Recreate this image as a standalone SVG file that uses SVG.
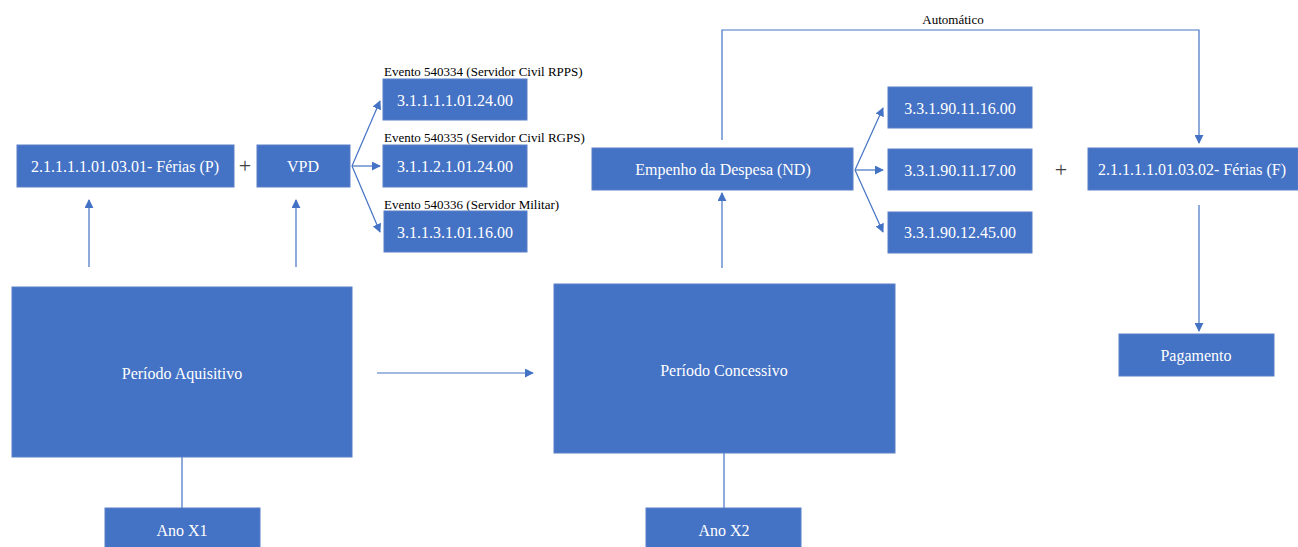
<svg xmlns="http://www.w3.org/2000/svg" width="1298" height="547" viewBox="0 0 1298 547">
<style>
.b{fill:#4472C4;stroke:#5A80C8;stroke-width:1}
.t{font-family:'Liberation Serif','Times New Roman',serif;font-size:16px;fill:#ffffff;text-anchor:middle;dominant-baseline:central}
.l{font-family:'Liberation Serif','Times New Roman',serif;font-size:13px;fill:#000000}
.p{font-family:'Liberation Serif','Times New Roman',serif;font-size:22px;fill:#404040;text-anchor:middle;dominant-baseline:central}
.c{fill:none;stroke:#4472C4;stroke-width:1.2}
</style>
<defs>
<marker id="a" viewBox="0 0 10 10" refX="9" refY="5" markerWidth="9" markerHeight="9" markerUnits="userSpaceOnUse" orient="auto">
<path d="M0,0 L10,5 L0,10 z" fill="#4472C4"/>
</marker>
</defs>
<rect width="1298" height="547" fill="#ffffff"/>
<g id="connectors">
<line class="c" x1="89" y1="267" x2="89" y2="200" marker-end="url(#a)"/>
<line class="c" x1="296" y1="267" x2="296" y2="200" marker-end="url(#a)"/>
<line class="c" x1="352" y1="166" x2="380" y2="101" marker-end="url(#a)"/>
<line class="c" x1="352" y1="166" x2="380" y2="166" marker-end="url(#a)"/>
<line class="c" x1="352" y1="166" x2="380" y2="232" marker-end="url(#a)"/>
<line class="c" x1="855" y1="170" x2="883" y2="108" marker-end="url(#a)"/>
<line class="c" x1="855" y1="170" x2="883" y2="170" marker-end="url(#a)"/>
<line class="c" x1="855" y1="170" x2="883" y2="232" marker-end="url(#a)"/>
<polyline class="c" points="722,140 722,30 1199,30 1199,143" marker-end="url(#a)"/>
<line class="c" x1="722" y1="268" x2="722" y2="193" marker-end="url(#a)"/>
<line class="c" x1="1199" y1="205" x2="1199" y2="331" marker-end="url(#a)"/>
<line class="c" x1="377" y1="373" x2="533" y2="373" marker-end="url(#a)"/>
<line class="c" x1="182" y1="457" x2="182" y2="508"/>
<line class="c" x1="724" y1="453" x2="724" y2="508"/>
</g>
<text class="l" x="953" y="24" text-anchor="middle">Automático</text>
<text class="p" x="245" y="165">+</text>
<text class="p" x="1061" y="169">+</text>
<g id="ferias-p"><rect class="b" x="17" y="145" width="217" height="42"/><text class="t" x="125" y="166">2.1.1.1.1.01.03.01- Férias (P)</text></g>
<g id="vpd"><rect class="b" x="257" y="145" width="93" height="42"/><text class="t" x="303" y="166">VPD</text></g>
<g id="n311"><text class="l" x="384" y="76">Evento 540334 (Servidor Civil RPPS)</text><rect class="b" x="383" y="79" width="144" height="41"/><text class="t" x="455" y="100">3.1.1.1.1.01.24.00</text></g>
<g id="n312"><text class="l" x="384" y="142">Evento 540335 (Servidor Civil RGPS)</text><rect class="b" x="383" y="145" width="144" height="42"/><text class="t" x="455" y="166">3.1.1.2.1.01.24.00</text></g>
<g id="n313"><text class="l" x="384" y="209">Evento 540336 (Servidor Militar)</text><rect class="b" x="384" y="211" width="143" height="41"/><text class="t" x="455" y="232">3.1.1.3.1.01.16.00</text></g>
<g id="empenho"><rect class="b" x="592" y="148" width="261" height="42"/><text class="t" x="723" y="169">Empenho da Despesa (ND)</text></g>
<g id="n3316"><rect class="b" x="888" y="87" width="144" height="41"/><text class="t" x="960" y="108">3.3.1.90.11.16.00</text></g>
<g id="n3317"><rect class="b" x="888" y="149" width="144" height="41"/><text class="t" x="960" y="170">3.3.1.90.11.17.00</text></g>
<g id="n3345"><rect class="b" x="888" y="212" width="144" height="41"/><text class="t" x="960" y="232">3.3.1.90.12.45.00</text></g>
<g id="ferias-f"><rect class="b" x="1088" y="148" width="210" height="42"/><text class="t" x="1192" y="169">2.1.1.1.1.01.03.02- Férias (F)</text></g>
<g id="pagamento"><rect class="b" x="1119" y="334" width="155" height="42"/><text class="t" x="1196" y="355">Pagamento</text></g>
<g id="aquisitivo"><rect class="b" x="12" y="287" width="340" height="170"/><text class="t" x="182" y="373">Período Aquisitivo</text></g>
<g id="concessivo"><rect class="b" x="554" y="284" width="341" height="169"/><text class="t" x="724" y="370">Período Concessivo</text></g>
<g id="anox1"><rect class="b" x="105" y="508" width="155" height="45"/><text class="t" x="182" y="530">Ano X1</text></g>
<g id="anox2"><rect class="b" x="646" y="508" width="155" height="45"/><text class="t" x="724" y="530">Ano X2</text></g>
</svg>
